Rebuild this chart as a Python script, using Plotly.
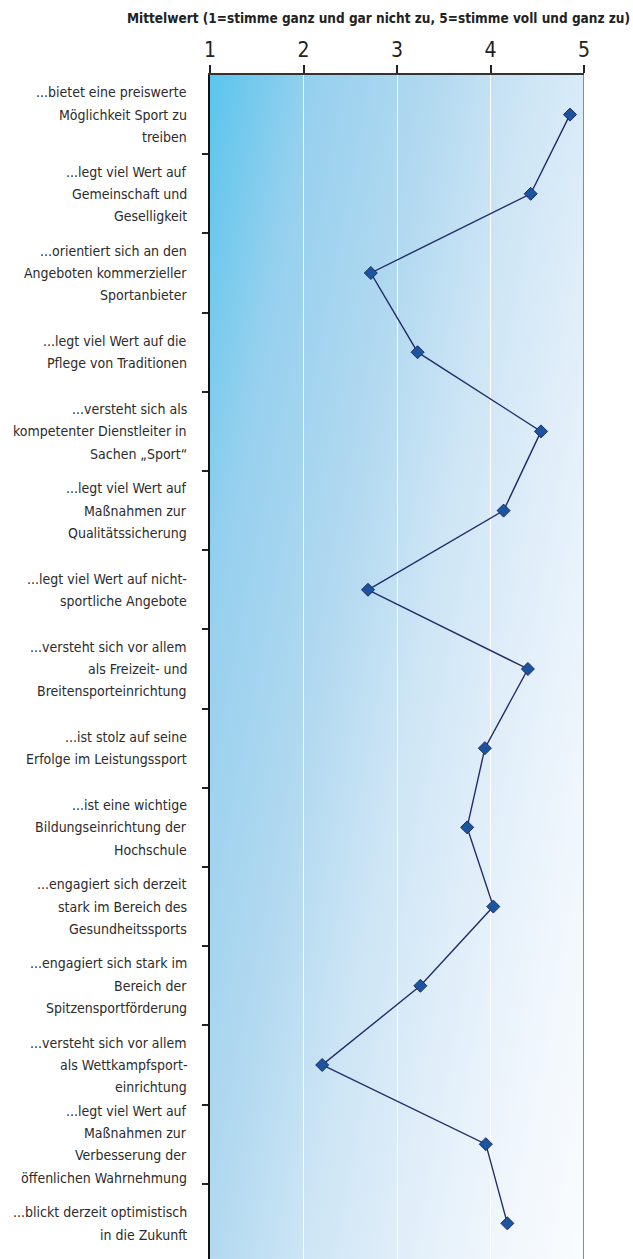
import base64
import plotly.graph_objects as go

labels = [
    ["...bietet eine preiswerte", "Möglichkeit Sport zu", "treiben"],
    ["...legt viel Wert auf", "Gemeinschaft und", "Geselligkeit"],
    ["...orientiert sich an den", "Angeboten kommerzieller", "Sportanbieter"],
    ["...legt viel Wert auf die", "Pflege von Traditionen"],
    ["...versteht sich als", "kompetenter Dienstleiter in", "Sachen „Sport“"],
    ["...legt viel Wert auf", "Maßnahmen zur", "Qualitätssicherung"],
    ["...legt viel Wert auf nicht-", "sportliche Angebote"],
    ["...versteht sich vor allem", "als Freizeit- und", "Breitensporteinrichtung"],
    ["...ist stolz auf seine", "Erfolge im Leistungssport"],
    ["...ist eine wichtige", "Bildungseinrichtung der", "Hochschule"],
    ["...engagiert sich derzeit", "stark im Bereich des", "Gesundheitssports"],
    ["...engagiert sich stark im", "Bereich der", "Spitzensportförderung"],
    ["...versteht sich vor allem", "als Wettkampfsport-", "einrichtung"],
    ["...legt viel Wert auf", "Maßnahmen zur", "Verbesserung der", "öffenlichen Wahrnehmung"],
    ["...blickt derzeit optimistisch", "in die Zukunft"],
]
values = [4.85, 4.43, 2.72, 3.22, 4.54, 4.14, 2.69, 4.40, 3.94, 3.75, 4.03, 3.25, 2.20, 3.95, 4.18]
x_ticks = [1, 2, 3, 4, 5]
title_text = "Mittelwert (1=stimme ganz und gar nicht zu, 5=stimme voll und ganz zu)"

FONT = "Liberation Sans Narrow, DejaVu Sans Condensed, Roboto, sans-serif"
n = len(values)
ypos = list(range(n))

stops = [(0, "#5ac5ec"), (0.17, "#96d0ee"), (0.375, "#b2d9f0"), (0.53, "#cde5f5"),
         (0.69, "#e0eef9"), (0.84, "#eff6fc"), (1, "#fafcfe")]
stop_xml = "".join(f'<stop offset="{o}" stop-color="{c}"/>' for o, c in stops)
svg = ('<svg xmlns="http://www.w3.org/2000/svg" width="100" height="100" viewBox="0 0 100 100" '
       'preserveAspectRatio="none"><defs><linearGradient id="g" gradientUnits="userSpaceOnUse" '
       'x1="0" y1="0" x2="117.6" y2="70.6">' + stop_xml +
       '</linearGradient></defs><rect width="100" height="100" fill="url(#g)"/></svg>')
svg_uri = "data:image/svg+xml;base64," + base64.b64encode(svg.encode()).decode()

fig = go.Figure()
fig.add_trace(go.Scatter(
    x=values, y=ypos, mode="lines+markers",
    line=dict(color="#232c6a", width=1.4),
    marker=dict(symbol="diamond", size=10, color="#1c559f", line=dict(color="#1d2a66", width=1)),
    hoverinfo="skip", showlegend=False,
))

annotations = []
LINE_H = 22.3
for i, lines in enumerate(labels):
    m = len(lines)
    for k, t in enumerate(lines):
        annotations.append(dict(
            x=0, xref="paper", y=i, yref="y", text=t, showarrow=False,
            xanchor="right", yanchor="middle", xshift=-21,
            yshift=-(k - (m - 1) / 2) * LINE_H,
            font=dict(family=FONT, size=14, color="#2b2b2b"),
        ))

fig.update_layout(
    width=633, height=1259,
    margin=dict(l=210, r=49, t=75, b=0),
    paper_bgcolor="white", plot_bgcolor="rgba(0,0,0,0)",
    title=dict(text="<b>" + title_text + "</b>", x=630 / 633, xanchor="right", xref="container",
               y=1 - 18 / 1259, yanchor="middle", yref="container",
               font=dict(family=FONT, size=13.5, color="#222")),
    images=[dict(source=svg_uri, xref="paper", yref="paper", x=0, y=1, sizex=1, sizey=1,
                 sizing="stretch", layer="below", xanchor="left", yanchor="top")],
    annotations=annotations,
    shapes=[dict(type="line", xref="x", yref="paper", x0=5, x1=5, y0=0, y1=1,
                 line=dict(color="#8c8c8c", width=2))],
    xaxis=dict(side="top", range=[1, 5], tickvals=x_ticks, ticktext=[str(v) for v in x_ticks],
               ticks="outside", ticklen=8, tickwidth=1.5, tickcolor="#222",
               showline=True, linecolor="#333", linewidth=2,
               showgrid=True, gridcolor="white", gridwidth=1.2, zeroline=False,
               tickfont=dict(family=FONT, size=21, color="#222")),
    yaxis=dict(range=[14.45, -0.5], tickvals=[i + 0.5 for i in range(n - 1)],
               showticklabels=False, ticks="outside", ticklen=6, tickwidth=1.5, tickcolor="#222",
               showline=True, linecolor="#111", linewidth=2, showgrid=False, zeroline=False),
)

fig.write_html("out.html")
